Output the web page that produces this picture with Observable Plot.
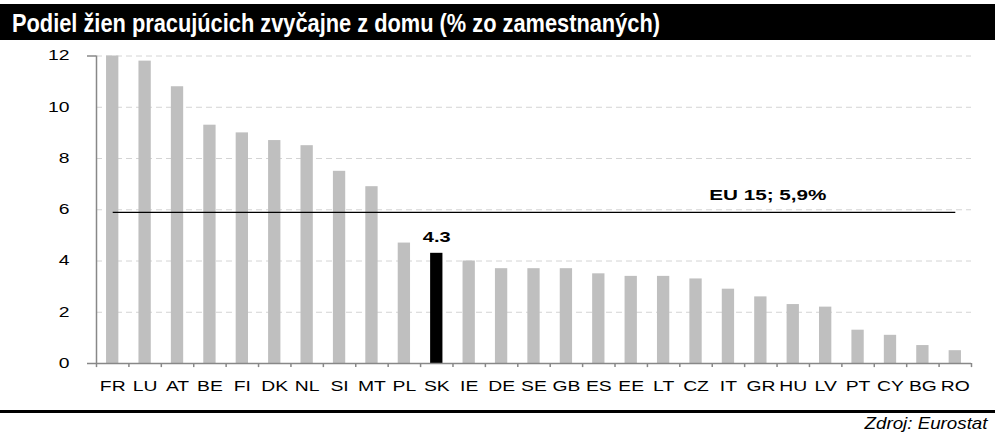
<!DOCTYPE html>
<html>
<head>
<meta charset="utf-8">
<script src="https://cdn.jsdelivr.net/npm/d3@7"></script>
<script src="https://cdn.jsdelivr.net/npm/@observablehq/plot@0.6"></script>
<style>
  html, body { margin: 0; padding: 0; background: #fff; }
  #wrap { width: 995px; position: relative; font-family: "Liberation Sans", Arial, sans-serif; }
  #title { margin-top: 4px; height: 36px; background: #000; color: #fff; font-weight: bold; font-size: 25px; line-height: 36px; padding-left: 12px; box-sizing: border-box; white-space: nowrap; overflow: hidden; }
  #title span { display: inline-block; transform-origin: 0 50%; position: relative; top: 1px; }
  #chart svg { display: block; }
  #rule { height: 3px; background: #000; margin-top: 5px; }
  #source { text-align: right; font-style: italic; font-size: 17px; line-height: 20px; padding-right: 8px; margin-top: 1px; color: #000; white-space: nowrap; }
  #source span { display: inline-block; transform-origin: 100% 50%; }
  svg text { font-family: "Liberation Sans", Arial, sans-serif; }
  svg [aria-label="x-axis tick label"], svg [aria-label="y-axis tick label"] { font-size: 14px; }
</style>
</head>
<body>
<div id="wrap">
  <div id="title"><span>Podiel žien pracujúcich zvyčajne z domu (% zo zamestnaných)</span></div>
  <div id="chart"></div>
  <div id="rule"></div>
  <div id="source"><span>Zdroj: Eurostat</span></div>
</div>
<script>
const countries = ["FR","LU","AT","BE","FI","DK","NL","SI","MT","PL","SK","IE","DE","SE","GB","ES","EE","LT","CZ","IT","GR","HU","LV","PT","CY","BG","RO"];
const values = [12.0,11.8,10.8,9.3,9.0,8.7,8.5,7.5,6.9,4.7,4.3,4.0,3.7,3.7,3.7,3.5,3.4,3.4,3.3,2.9,2.6,2.3,2.2,1.3,1.1,0.7,0.5];
const highlight = "SK";
const euLabel = "EU 15; 5,9%";
const euValue = 5.9;
const euLabelAt = "GR";
const yTicks = [0,2,4,6,8,10,12];

const data = countries.map((c, i) => ({country: c, value: values[i]}));
const W = 995, ML = 96, MR = 24;
const step = (W - ML - MR) / countries.length;
const PAD = 0.62;
const axisColor = "#888888";

const chart = Plot.plot({
  width: W,
  height: 365,
  marginLeft: ML,
  marginRight: MR,
  marginTop: 15.5,
  marginBottom: 42,
  x: {domain: countries, paddingInner: PAD, paddingOuter: PAD / 2, align: 0.5, round: false, label: null},
  y: {domain: [0, 12], label: null},
  marks: [
    Plot.ruleY(yTicks.filter(d => d > 0), {stroke: "#d4d4d4", strokeDasharray: "6,4", strokeWidth: 1}),
    Plot.barY(data, {x: "country", y: "value", fill: d => d.country === highlight ? "#000" : "#bfbfbf"}),
    // y axis line
    Plot.ruleX([countries[0]], {dx: -step / 2, y1: 0, y2: 12, stroke: axisColor, strokeWidth: 1.5}),
    // y tick labels
    Plot.axisY({ticks: yTicks, tickSize: 0, tickPadding: 27, fontSize: 14, tickFormat: d => d, fill: "#000"}),
    // tick at the top of the y axis
    Plot.ruleY([12], {insetLeft: -9, insetRight: W - ML - MR, stroke: axisColor, strokeWidth: 1.5}),
    // x axis line
    Plot.ruleY([0], {stroke: axisColor, strokeWidth: 1.5, insetLeft: -9}),
    // x ticks at band boundaries
    Plot.ruleX(countries, {dx: -step / 2, y1: 0, y2: -0.16, stroke: axisColor, strokeWidth: 1.5}),
    Plot.ruleX([countries[countries.length - 1]], {dx: step / 2, y1: 0, y2: -0.16, stroke: axisColor, strokeWidth: 1.5}),
    Plot.axisX({tickSize: 0, tickPadding: 17.5, fontSize: 14, fill: "#000"}),
    // EU average line
    Plot.link([euValue], {x1: () => countries[0], x2: () => countries[countries.length - 1], y1: d => d, y2: d => d, stroke: "#000", strokeWidth: 1.2}),
    Plot.text([euValue], {x: () => euLabelAt, y: d => d, text: () => euLabel, dx: 7, dy: -17, fontWeight: "bold", fontSize: 15, fill: "#000"}),
    // highlight label
    Plot.text(data.filter(d => d.country === highlight), {x: "country", y: "value", text: d => d.value.toFixed(1), dy: -16, fontWeight: "bold", fontSize: 14.5, fill: "#000"})
  ]
});
document.getElementById("chart").append(chart);

// the reference text is drawn horizontally stretched: scale each label about its anchor
const STRETCH = 1.38;
chart.querySelectorAll("text").forEach(t => {
  const tr = t.getAttribute("transform") || "";
  const x = +(t.getAttribute("x") || 0);
  t.setAttribute("transform", `${tr} translate(${x},0) scale(${STRETCH},1) translate(${-x},0)`);
});

// condensed title and source
function fitWidth(sel, target) {
  const el = document.querySelector(sel);
  const w = el.getBoundingClientRect().width;
  el.style.transform = `scaleX(${target / w})`;
}
fitWidth("#title span", 648);
fitWidth("#source span", 123);
</script>
</body>
</html>
